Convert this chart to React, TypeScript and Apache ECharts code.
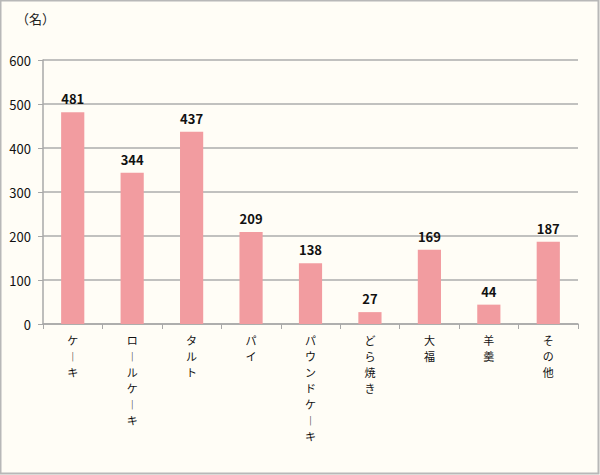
import React, { useEffect, useRef } from "react";
import * as echarts from "echarts";

const categories = ["ケーキ", "ロールケーキ", "タルト", "パイ", "パウンドケーキ", "どら焼き", "大福", "羊羹", "その他"];
const values = [481, 344, 437, 209, 138, 27, 169, 44, 187];
const yTicks = { min: 0, max: 600, interval: 100 };
const unitLabel = "（名）";

const FONT = "'Noto Sans CJK JP', 'Noto Sans', sans-serif";

export default function App() {
  const ref = useRef<HTMLDivElement>(null);
  useEffect(() => {
    if (!ref.current) return;
    const chart = echarts.init(ref.current, undefined, { renderer: "svg" });
    chart.setOption({
      animation: false,
      backgroundColor: "#FFFDF6",
      textStyle: { fontFamily: FONT },
      graphic: [
        {
          type: "rect",
          shape: { x: 0.5, y: 0.5, width: 598, height: 473 },
          style: { fill: "none", stroke: "#B8B8B8", lineWidth: 2 },
          silent: true,
        },
        {
          type: "text",
          left: 16,
          top: 12,
          style: { text: unitLabel, font: `13px ${FONT}`, fill: "#222" },
        },
      ],
      grid: { left: 43, right: 22, top: 60, bottom: 151, containLabel: false },
      xAxis: {
        type: "category",
        data: categories,
        axisLine: { lineStyle: { color: "#A8A8A8", width: 1.5 } },
        axisTick: { show: true, length: 5, lineStyle: { color: "#A8A8A8" } },
        axisLabel: {
          interval: 0,
          margin: 8,
          color: "#111",
          fontSize: 11,
          fontFamily: FONT,
          lineHeight: 16,
          align: "center",
          verticalAlign: "top",
          formatter: (v: string) =>
            v.split("").map((c) => (c === "ー" ? "︱" : c)).join("\n"),
        },
      },
      yAxis: {
        type: "value",
        min: yTicks.min,
        max: yTicks.max,
        interval: yTicks.interval,
        axisLine: { show: true, lineStyle: { color: "#A8A8A8", width: 1.5 } },
        axisTick: { show: true, length: 5, lineStyle: { color: "#A8A8A8" } },
        axisLabel: { color: "#111", fontSize: 13, margin: 12, fontFamily: FONT },
        splitLine: { lineStyle: { color: "#ADADAD", width: 1.5 } },
      },
      series: [
        {
          type: "bar",
          data: values,
          barWidth: "39%",
          itemStyle: { color: "#F29CA0" },
          label: {
            show: true,
            position: "top",
            distance: 7,
            color: "#111",
            fontSize: 13,
            fontWeight: "bold",
            fontFamily: FONT,
          },
        },
      ],
    });
    return () => chart.dispose();
  }, []);
  return (
    <div
      ref={ref}
      style={{ position: "fixed", left: 0, top: 0, width: 600, height: 475 }}
    />
  );
}
